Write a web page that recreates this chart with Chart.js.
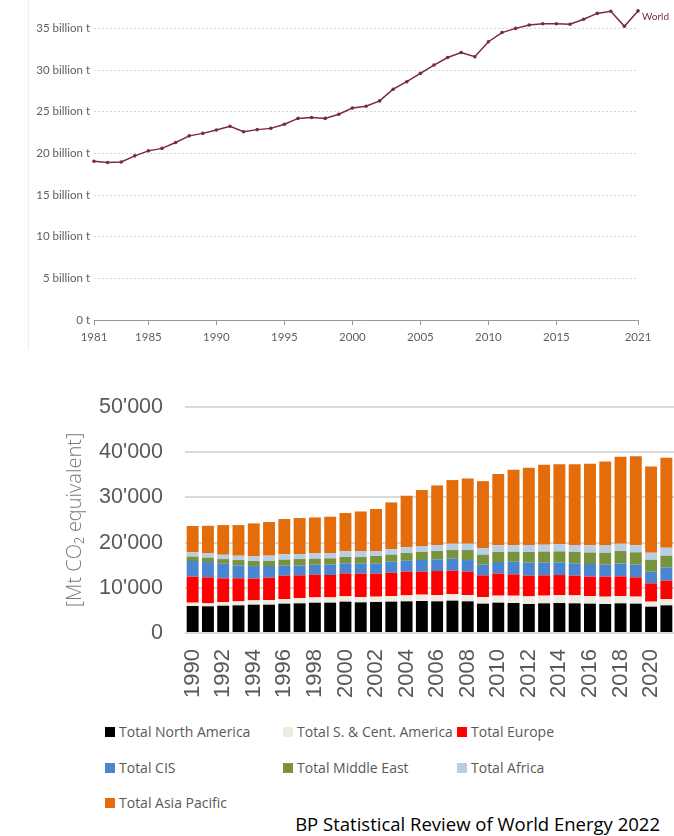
<!DOCTYPE html>
<html>
<head>
<meta charset="utf-8">
<script src="https://cdn.jsdelivr.net/npm/chart.js@4"></script>
<style>
  body { margin: 0; width: 674px; height: 836px; background: #fff; position: relative; overflow: hidden; }
  #c1 { position: absolute; left: 0; top: 0; }
  #edge { position: absolute; left: 28px; top: 0; width: 1px; height: 350px; background: #eeeeee; }
  #c2 { position: absolute; left: 0; top: 380px; }
  #legend { position: absolute; left: 105px; top: 722px; font: 14px "Open Sans"; color: #595959; }
  .item { position: absolute; white-space: nowrap; line-height: 20px; }
  .box { display: inline-block; width: 10px; height: 10px; margin-right: 4px; }
  #source { position: absolute; right: 14px; top: 811px; font: 18.5px "Open Sans"; color: #000; white-space: nowrap; }
</style>
</head>
<body>
<div id="edge"></div>
<canvas id="c1" width="674" height="350"></canvas>
<canvas id="c2" width="674" height="330"></canvas>
<div id="legend"></div>
<div id="source">BP Statistical Review of World Energy 2022</div>
<script>
// top chart: world CO2 emissions, billion t
var years = [1981,1982,1983,1984,1985,1986,1987,1988,1989,1990,
  1991,1992,1993,1994,1995,1996,1997,1998,1999,2000,
  2001,2002,2003,2004,2005,2006,2007,2008,2009,2010,
  2011,2012,2013,2014,2015,2016,2017,2018,2019,2020,2021];
var world = [19.05,18.9,18.97,19.7,20.3,20.6,21.3,22.1,22.4,22.8,
  23.25,22.6,22.85,23.0,23.5,24.2,24.3,24.2,24.7,25.45,
  25.65,26.3,27.7,28.6,29.6,30.6,31.5,32.1,31.6,33.4,
  34.5,35.0,35.4,35.55,35.55,35.5,36.1,36.8,37.05,35.25,37.1];
var xTicks = [1981,1985,1990,1995,2000,2005,2010,2015,2021];
var yTicks = [0,5,10,15,20,25,30,35];

// bottom chart: BP regions, Mt CO2
var barYears = ['1990','1991','1992','1993','1994','1995','1996','1997','1998','1999',
  '2000','2001','2002','2003','2004','2005','2006','2007','2008','2009',
  '2010','2011','2012','2013','2014','2015','2016','2017','2018','2019','2020','2021'];
var northAmerica = [5970,5900,6040,6120,6260,6270,6490,6560,6700,6710,
  6930,6780,6850,6930,7000,7080,7000,7150,7000,6490,
  6710,6630,6410,6560,6630,6560,6490,6410,6560,6490,5820,6120];
var southCentAmerica = [740,660,810,880,960,1030,1030,1180,1180,1180,
  1180,1180,1180,1250,1330,1400,1400,1470,1400,1470,
  1550,1620,1700,1700,1770,1770,1700,1620,1620,1550,1110,1400];
var europe = [5750,5750,5230,5090,4790,4940,5160,5010,5010,4940,
  5050,5160,5090,5160,5230,5090,5310,5160,5160,4790,
  4870,4720,4570,4500,4420,4350,4270,4420,4350,4280,4050,4050];
var cis = [3470,3390,3240,2870,2800,2580,2290,2210,2210,2290,
  2250,2210,2210,2430,2430,2580,2580,2650,2580,2360,
  2580,2800,2880,2800,2800,2730,2800,2650,2870,2800,2580,2950];
var middleEast = [960,960,1030,1180,1110,1110,1250,1400,1330,1400,
  1400,1470,1700,1550,1700,1770,1840,1920,2210,2210,
  2210,2210,2360,2430,2430,2510,2550,2650,2730,2730,2650,2580];
var africa = [960,1030,960,960,1030,1180,1250,1110,1250,1180,
  1250,1250,1110,1250,1330,1330,1330,1400,1400,1470,
  1470,1470,1550,1550,1620,1550,1580,1630,1620,1550,1550,1770];
var asiaPacific = [5820,6040,6560,6780,7300,7440,7740,7960,7890,8030,
  8480,8840,9290,10320,11350,12380,13190,14080,14450,14810,
  15770,16660,17100,17690,17690,17840,18060,18570,19240,19680,19090,19900];

var seriesNames = ['Total North America','Total S. & Cent. America','Total Europe','Total CIS',
  'Total Middle East','Total Africa','Total Asia Pacific'];
var seriesData = [northAmerica, southCentAmerica, europe, cis, middleEast, africa, asiaPacific];
var seriesColors = ['#000000','#eeece1','#ff0000','#4a86d0','#77933c','#b9cde5','#e46c0a'];

var maroon = '#7b2b3a';

var endLabel = {
  id: 'endLabel',
  afterDatasetsDraw: function(chart) {
    var meta = chart.getDatasetMeta(0);
    var p = meta.data[meta.data.length - 1];
    var ctx = chart.ctx;
    ctx.save();
    ctx.font = '10px Lato';
    ctx.fillStyle = maroon;
    ctx.textBaseline = 'middle';
    ctx.fillText('World', p.x + 4, p.y + 6);
    ctx.restore();
  }
};

new Chart(document.getElementById('c1'), {
  type: 'line',
  data: {
    datasets: [{
      label: 'World',
      data: years.map(function(y, i) { return { x: y, y: world[i] }; }),
      borderColor: maroon,
      backgroundColor: maroon,
      borderWidth: 1.5,
      pointRadius: 1.8,
      pointBorderWidth: 0,
      tension: 0,
      clip: false
    }]
  },
  options: {
    responsive: false,
    animation: false,
    layout: { padding: { left: 0, right: 36, top: 0, bottom: 0 } },
    plugins: { legend: { display: false }, tooltip: { enabled: false } },
    scales: {
      x: {
        type: 'linear', min: 1981, max: 2021,
        afterBuildTicks: function(s) { s.ticks = xTicks.map(function(v) { return { value: v }; }); },
        ticks: { font: { family: 'Lato', size: 11.5 }, color: '#5e5e5e', padding: 5, maxRotation: 0, autoSkip: false,
          callback: function(v) { return String(v); } },
        grid: { drawOnChartArea: false, color: '#999', tickLength: 5 },
        border: { color: '#999' },
        afterFit: function(s) { s.height = 30; }
      },
      y: {
        min: 0, max: 37.1,
        afterBuildTicks: function(s) { s.ticks = yTicks.map(function(v) { return { value: v }; }); },
        ticks: { font: { family: 'Lato', size: 11.5 }, color: '#5e5e5e', padding: 4,
          callback: function(v) { return v === 0 ? '0 t' : v + ' billion t'; } },
        grid: { color: '#d6d6d6', drawTicks: false },
        border: { display: false, dash: [2, 2] },
        afterFit: function(s) { s.width = 94; }
      }
    }
  },
  plugins: [endLabel]
});

function fmt(v) {
  return String(v).replace(/\B(?=(\d{3})+(?!\d))/g, "'");
}

new Chart(document.getElementById('c2'), {
  type: 'bar',
  data: {
    labels: barYears,
    datasets: seriesData.map(function(d, i) {
      return { label: seriesNames[i], data: d, backgroundColor: seriesColors[i], borderWidth: 0 };
    })
  },
  options: {
    responsive: false,
    animation: false,
    layout: { padding: { top: 27, right: 0, left: 0, bottom: 0 } },
    datasets: { bar: { categoryPercentage: 1, barPercentage: 0.78 } },
    plugins: { legend: { display: false }, tooltip: { enabled: false } },
    scales: {
      x: {
        stacked: true,
        grid: { display: false },
        border: { display: false },
        ticks: { autoSkip: false, minRotation: 90, maxRotation: 90, padding: 8,
          font: { family: 'Liberation Sans', size: 22 }, color: '#595959',
          callback: function(v, i) { return i % 2 === 0 ? barYears[i] : ''; } },
        afterFit: function(s) { s.height = 77; s.paddingLeft = 0; s.paddingRight = 0; }
      },
      y: {
        stacked: true, min: 0, max: 50000,
        ticks: { stepSize: 10000, padding: 22, font: { family: 'Liberation Sans', size: 21.5 }, color: '#595959',
          callback: function(v) { return fmt(v); } },
        grid: { color: '#d9d9d9', lineWidth: 2, drawTicks: false },
        border: { display: false },
        title: { display: true, text: '[Mt CO\u2082 equivalent]', color: '#7a7a7a',
          font: { family: 'Open Sans', size: 20, weight: '300' }, padding: { top: 63, bottom: 0 } },
        afterFit: function(s) { s.width = 185; s.paddingTop = 0; s.paddingBottom = 0; }
      }
    }
  }
});

// legend in three columns like the source figure
var legend = document.getElementById('legend');
var colX = [0, 178, 352];
var rowY = [0, 36, 71];
seriesNames.forEach(function(name, i) {
  var el = document.createElement('div');
  el.className = 'item';
  el.style.left = colX[i % 3] + 'px';
  el.style.top = rowY[Math.floor(i / 3)] + 'px';
  el.innerHTML = '<span class="box" style="background:' + seriesColors[i] + '"></span>' + name;
  legend.appendChild(el);
});
</script>
</body>
</html>
